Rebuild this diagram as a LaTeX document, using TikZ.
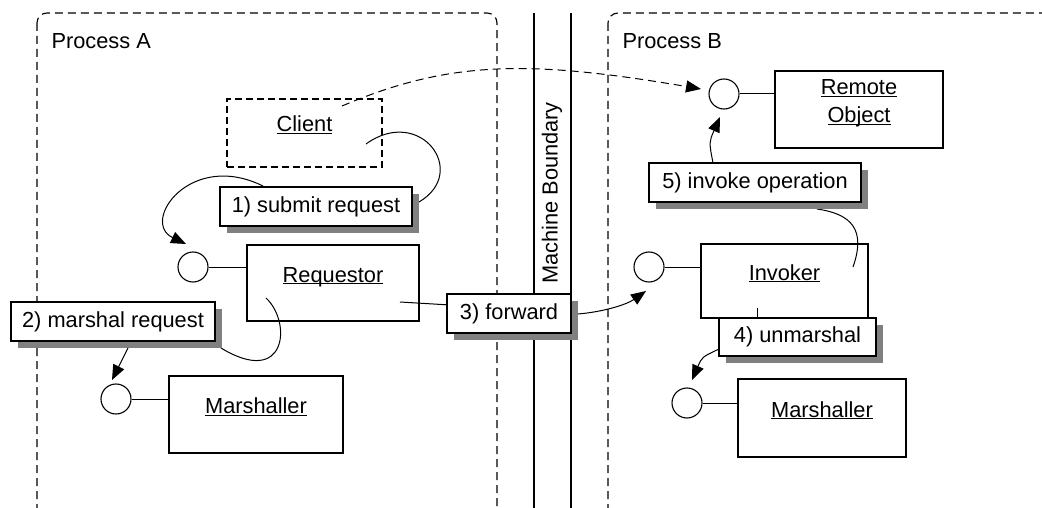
\documentclass[tikz,border=0pt]{standalone}
\usepackage{fontspec}
\setmainfont{Liberation Sans}
\usetikzlibrary{arrows.meta,shadows}
\newcommand\ulx[1]{\underline{\smash{#1}}}
\begin{document}
\begin{tikzpicture}[x=1pt,y=-1pt,
  every node/.style={font=\fontsize{21.8}{28}\selectfont},
  box/.style={draw, line width=1.1pt, fill=white, inner sep=0pt},
  lbl/.style={box, general shadow={fill=black!50, draw=none, shadow xshift=7pt, shadow yshift=-7pt}},
  lolly/.style={circle, draw, line width=1.1pt, fill=white, minimum size=30pt, inner sep=0pt},
  conn/.style={line width=1pt},
  arr/.style={conn, -{Triangle[length=15pt,width=12pt]}},
  procbox/.style={draw, line width=1.1pt, dash pattern=on 8pt off 5pt, rounded corners=10pt}
]
\useasboundingbox (0,0) rectangle (1042,508);
\begin{scope}
\clip (0,0) rectangle (1042,508);
% process boxes
\draw[procbox] (37,13) rectangle (497,520);
\draw[procbox] (608,13) rectangle (1060,520);
% machine boundary
\draw[line width=1.1pt] (534,13) -- (534,510);
\draw[line width=1.1pt] (571,13) -- (571,510);
\end{scope}
\node[anchor=base west] (pa) at (48,49) {Process A};
\node[anchor=base west] (pb) at (619,49) {Process B};
\node[rotate=90] (mb) at (552,193) {Machine Boundary};

% boxes
\node[box, dash pattern=on 7pt off 4pt, minimum width=155pt, minimum height=68pt] (client) at (304.5,133) {\ulx{Client}};
\node[box, minimum width=172pt, minimum height=76pt] (req) at (333,283) {\ulx{Requestor}};
\node[box, minimum width=174pt, minimum height=77pt] (marA) at (256,414.5) {\ulx{Marshaller}};
\node[box, minimum width=168pt, minimum height=77pt, align=center] (remote) at (859,109.5) {\ulx{Remote}\\\ulx{Object}};
\node[box, minimum width=167pt, minimum height=74pt] (inv) at (784.5,281) {\ulx{Invoker}};
\node[box, minimum width=168pt, minimum height=78pt] (marB) at (822,418) {\ulx{Marshaller}};

% lollipops
\node[lolly] (reqC) at (193,267) {};
\node[lolly] (marAC) at (116,399) {};
\node[lolly] (remC) at (724,94) {};
\node[lolly] (invC) at (649,267) {};
\node[lolly] (marBC) at (687,403) {};
\draw[conn] (reqC.east) -- (reqC.east -| req.west);
\draw[conn] (marAC.east) -- (marAC.east -| marA.west);
\draw[conn] (remC.east) -- (remC.east -| remote.west);
\draw[conn] (invC.east) -- (invC.east -| inv.west);
\draw[conn] (marBC.east) -- (marBC.east -| marB.west);

% coordinates for free ends
\coordinate (c1) at (342,106);
\coordinate (c1t) at (701,89);
\coordinate (c2) at (366,144);
\coordinate (c3) at (419,202);
\coordinate (c4) at (263,186);
\coordinate (c4t) at (186,244);
\coordinate (c5) at (266,298);
\coordinate (c6) at (221,348);
\coordinate (c7) at (128,348);
\coordinate (c7t) at (112,380);
\coordinate (c8) at (400,302);
\coordinate (c9) at (578,314);
\coordinate (c9t) at (646,291);
\coordinate (c10) at (853,267);
\coordinate (c11) at (817,209);
\coordinate (c12) at (713,163);
\coordinate (c12t) at (720,117);
\coordinate (c13) at (757,308);
\coordinate (c14) at (719,349);
\coordinate (c14t) at (692,380);

% connectors passing behind labels
\draw[conn] (c2) .. controls (420,105) and (470,172) .. (c3);
\draw[conn] (c5) .. controls (292,322) and (287,388) .. (c6);
\draw[conn] (c10) .. controls (866,230) and (852,214) .. (c11);
\draw[conn] (c13) -- (757,320);
\draw[conn] (c8) -- (450,305);

\node[lbl, minimum width=192pt, minimum height=39pt] (submit) at (316,206.5) {1) submit request};
\node[lbl, minimum width=204pt, minimum height=39pt] (marreq) at (113,321.5) {2) marshal request};
\node[lbl, minimum width=124pt, minimum height=39pt] (fwd) at (509,313.5) {3) forward};
\node[lbl, minimum width=157pt, minimum height=38pt] (unm) at (797.5,337) {4) unmarshal};
\node[lbl, minimum width=212pt, minimum height=39pt] (invop) at (755,182.5) {5) invoke operation};

% arrows
\draw[conn, dash pattern=on 8pt off 5pt, -{Triangle[length=15pt,width=12pt]}] (c1) .. controls (450,60) and (530,60) .. (c1t);
\draw[arr] (c4) .. controls (190,150) and (140,222) .. (c4t);
\draw[arr] (c7) -- (c7t);
\draw[arr] (c9) .. controls (602,312) and (626,305) .. (c9t);
\draw[arr] (c12) .. controls (709,142) .. (c12t);
\draw[arr] (c14) .. controls (702,357) .. (c14t);
\end{tikzpicture}
\end{document}
